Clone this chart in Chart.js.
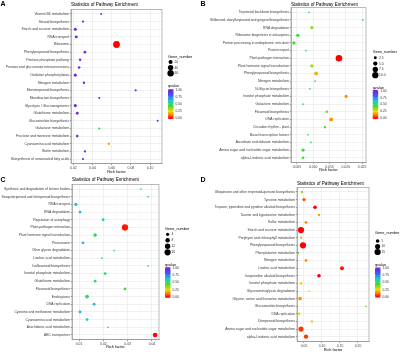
<!DOCTYPE html>
<html>
<head>
<meta charset="utf-8">
<script src="https://cdn.jsdelivr.net/npm/chart.js@4.4.0/dist/chart.umd.min.js"></script>
<style>
  html, body { margin: 0; padding: 0; background: #fff; }
  #wrap { position: relative; width: 400px; height: 352px; overflow: hidden; }
  #wrap canvas { position: absolute; }
  .tag { position: absolute; font: bold 7px "Liberation Sans", Arial, sans-serif; color: #000; line-height: 7px; }
</style>
</head>
<body>
<div id="wrap">
  <canvas id="chartA" width="200" height="176" style="left:0;top:0"></canvas>
  <canvas id="chartB" width="200" height="176" style="left:200px;top:0"></canvas>
  <canvas id="chartC" width="200" height="176" style="left:0;top:176px"></canvas>
  <canvas id="chartD" width="200" height="176" style="left:200px;top:176px"></canvas>
  <div class="tag" style="left:0.5px;top:0px">A</div>
  <div class="tag" style="left:200.5px;top:0px">B</div>
  <div class="tag" style="left:0.5px;top:175.5px">C</div>
  <div class="tag" style="left:200.5px;top:176px">D</div>
</div>
<script>
// ---- data ----
const pathwaysA = ['Vitamin B6 metabolism', 'Steroid biosynthesis', 'Starch and sucrose metabolism', 'RNA transport',
  'Ribosome', 'Phenylpropanoid biosynthesis', 'Pentose phosphate pathway', 'Pentose and glucuronate interconversions',
  'Oxidative phosphorylation', 'Nitrogen metabolism', 'Monoterpenoid biosynthesis', 'Monobactam biosynthesis',
  'Glycolysis / Gluconeogenesis', 'Glutathione metabolism', 'Glucosinolate biosynthesis', 'Galactose metabolism',
  'Fructose and mannose metabolism', 'Cyanoamino acid metabolism', 'Biotin metabolism', 'Biosynthesis of unsaturated fatty acids'];
const richA = [0.049, 0.030, 0.022, 0.023, 0.065, 0.032, 0.027, 0.026, 0.022, 0.031, 0.085, 0.047, 0.022, 0.024, 0.108, 0.047, 0.024, 0.057, 0.032, 0.030];
const genesA = [2, 3, 9, 8, 70, 6, 4, 5, 10, 4, 3, 2, 9, 7, 2, 3, 5, 4, 3, 3];
const qvalA = [0.98, 0.97, 0.95, 0.95, 0.0, 0.96, 0.97, 0.96, 0.95, 0.96, 0.93, 0.98, 0.95, 0.96, 0.98, 0.5, 0.96, 0.18, 0.97, 0.97];
const ticksA = [0.02, 0.04, 0.06, 0.08, 0.10];
const geneKeysA = [20, 40, 60];

const pathwaysB = ['Terpenoid backbone biosynthesis', 'Stilbenoid, diarylheptanoid and gingerol biosynthesis', 'RNA degradation',
  'Ribosome biogenesis in eukaryotes', 'Protein processing in endoplasmic reticulum', 'Protein export',
  'Plant-pathogen interaction', 'Plant hormone signal transduction', 'Phenylpropanoid biosynthesis', 'Nitrogen metabolism',
  'N-Glycan biosynthesis', 'Inositol phosphate metabolism', 'Galactose metabolism', 'Flavonoid biosynthesis', 'DNA replication',
  'Circadian rhythm - plant', 'Basal transcription factors', 'Ascorbate and aldarate metabolism',
  'Amino sugar and nucleotide sugar metabolism', 'alpha-Linolenic acid metabolism'];
const richB = [0.0087, 0.0252, 0.0096, 0.0053, 0.0041, 0.0078, 0.0179, 0.0096, 0.0109, 0.0106, 0.0090, 0.0201, 0.0069, 0.0142, 0.0155, 0.0136, 0.0084, 0.0093, 0.0069, 0.0069];
const genesB = [1, 1, 3, 3, 3, 1, 11, 3, 4, 1, 1, 3, 1, 2, 4, 2, 1, 1, 3, 2];
const qvalB = [0.5, 0.55, 0.35, 0.45, 0.45, 0.5, 0.0, 0.35, 0.2, 0.5, 0.5, 0.15, 0.5, 0.4, 0.15, 0.4, 0.5, 0.5, 0.45, 0.45];
const ticksB = [0.005, 0.010, 0.015, 0.020, 0.025];
const geneKeysB = [2.5, 5, 7.5, 10];

const pathwaysC = ['Synthesis and degradation of ketone bodies', 'Sesquiterpenoid and triterpenoid biosynthesis', 'RNA transport',
  'RNA degradation', 'Regulation of autophagy', 'Plant-pathogen interaction', 'Plant hormone signal transduction', 'Peroxisome',
  'Other glycan degradation', 'Linoleic acid metabolism', 'Isoflavonoid biosynthesis', 'Inositol phosphate metabolism',
  'Glutathione metabolism', 'Flavonoid biosynthesis', 'Endocytosis', 'DNA replication', 'Cysteine and methionine metabolism',
  'Cyanoamino acid metabolism', 'Arachidonic acid metabolism', 'ABC transporters'];
const richC = [0.0355, 0.0384, 0.0087, 0.0104, 0.0199, 0.0289, 0.0166, 0.0116, 0.0244, 0.0194, 0.0384, 0.0207, 0.0166, 0.0289, 0.0133, 0.0162, 0.0104, 0.0133, 0.0219, 0.0413];
const genesC = [1, 1, 4, 3, 3, 16, 5, 3, 1, 1, 1, 3, 3, 3, 6, 3, 3, 3, 1, 9];
const qvalC = [0.62, 0.58, 0.65, 0.65, 0.58, 0.02, 0.48, 0.65, 0.6, 0.6, 0.6, 0.5, 0.52, 0.45, 0.5, 0.65, 0.66, 0.63, 0.6, 0.0];
const ticksC = [0.01, 0.02, 0.03, 0.04];
const geneKeysC = [4, 8, 12, 16];

const pathwaysD = ['Ubiquinone and other terpenoid-quinone biosynthesis', 'Tyrosine metabolism',
  'Tropane, piperidine and pyridine alkaloid biosynthesis', 'Taurine and hypotaurine metabolism', 'Sulfur metabolism',
  'Starch and sucrose metabolism', 'Porphyrin and chlorophyll metabolism', 'Phenylpropanoid biosynthesis',
  'Phenylalanine metabolism', 'Nitrogen metabolism', 'Linoleic acid metabolism', 'Isoquinoline alkaloid biosynthesis',
  'Inositol phosphate metabolism', 'Glycosaminoglycan degradation', 'Glycine, serine and threonine metabolism',
  'Glucosinolate biosynthesis', 'DNA replication', 'Diterpenoid biosynthesis', 'Amino sugar and nucleotide sugar metabolism',
  'alpha-Linolenic acid metabolism'];
const richD = [0.0445, 0.050, 0.0806, 0.0917, 0.0556, 0.0417, 0.0417, 0.0473, 0.0334, 0.0556, 0.1556, 0.0917, 0.0417, 0.064, 0.039, 0.2223, 0.036, 0.072, 0.0417, 0.0556];
const genesD = [2, 4, 5, 2, 3, 15, 2, 15, 2, 3, 6, 5, 3, 1, 5, 1, 3, 2, 10, 7];
const qvalD = [0.35, 0.08, 0.0, 0.15, 0.15, 0.0, 0.35, 0.0, 0.4, 0.15, 0.02, 0.0, 0.25, 0.3, 0.15, 0.4, 0.25, 0.28, 0.05, 0.05];
const ticksD = [0.05, 0.10, 0.15, 0.20];
const geneKeysD = [5, 10, 15];

const qTicks = [1.00, 0.75, 0.50, 0.25, 0.00];

// ---- styling helpers ----
const FONT = '"Liberation Sans", Arial, sans-serif';
const TITLE = 'Statistics of Pathway Enrichment';
const H = 176;

// qvalue colour scale, 0 = red ... 1 = purple
const qStops = [
  [0.00, [255, 0, 0]],
  [0.12, [255, 128, 0]],
  [0.25, [240, 215, 0]],
  [0.45, [60, 220, 50]],
  [0.62, [30, 205, 205]],
  [0.80, [60, 95, 255]],
  [1.00, [120, 30, 215]]
];
function qColor(q) {
  for (let i = 1; i < qStops.length; i++) {
    if (q <= qStops[i][0]) {
      const [p0, c0] = qStops[i - 1], [p1, c1] = qStops[i];
      const t = (q - p0) / (p1 - p0);
      const c = c0.map((v, k) => Math.round(v + (c1[k] - v) * t));
      return `rgb(${c[0]},${c[1]},${c[2]})`;
    }
  }
  const c = qStops[qStops.length - 1][1];
  return `rgb(${c[0]},${c[1]},${c[2]})`;
}

function sizer(maxGene, maxR) {
  return n => 0.85 + (maxR - 0.85) * (Math.sqrt(n) - 1) / (Math.sqrt(maxGene) - 1);
}

// title, border and the two legends
const decor = {
  id: 'decor',
  afterDraw(chart, args, o) {
    const ctx = chart.ctx, a = chart.chartArea, L = o.leg;
    ctx.save();
    ctx.strokeStyle = '#8c8c8c';
    ctx.lineWidth = 0.6;
    ctx.strokeRect(a.left, a.top, a.right - a.left, a.bottom - a.top);

    ctx.fillStyle = '#000';
    ctx.textBaseline = 'middle';
    ctx.textAlign = 'left';
    ctx.font = '4.6px ' + FONT;
    ctx.fillText(TITLE, a.left, o.titleY);

    // Gene_number
    ctx.font = '3.8px ' + FONT;
    ctx.fillText('Gene_number', L.x, L.gTitle);
    ctx.font = '3.3px ' + FONT;
    o.keys.forEach((n, i) => {
      const y = L.g0 + i * L.gStep;
      ctx.fillStyle = '#000';
      ctx.beginPath();
      ctx.arc(L.x + 2.6, y, o.radius(n), 0, Math.PI * 2);
      ctx.fill();
      ctx.fillStyle = '#333';
      ctx.fillText(n.toFixed(o.keyDigits), L.x + 6.4, y);
    });

    // qvalue colour bar
    ctx.fillStyle = '#000';
    ctx.font = '3.8px ' + FONT;
    ctx.fillText('qvalue', L.x, L.qTitle);
    const top = L.q0 - 0.8, bot = L.q1 + 0.8, w = 5.5;
    const g = ctx.createLinearGradient(0, L.q0, 0, L.q1);
    qStops.forEach(([p]) => g.addColorStop(1 - p, qColor(p)));
    ctx.fillStyle = g;
    ctx.fillRect(L.x, top, w, bot - top);
    ctx.font = '3.3px ' + FONT;
    qTicks.forEach(q => {
      const y = L.q1 - (L.q1 - L.q0) * q;
      ctx.strokeStyle = '#fff';
      ctx.lineWidth = 0.4;
      ctx.beginPath();
      ctx.moveTo(L.x, y); ctx.lineTo(L.x + 1.1, y);
      ctx.moveTo(L.x + w - 1.1, y); ctx.lineTo(L.x + w, y);
      ctx.stroke();
      ctx.fillStyle = '#333';
      ctx.fillText(q.toFixed(2), L.x + w + 2, y);
    });
    ctx.restore();
  }
};

function xTicks(p) {
  const major = p.ticks;
  const step = major[1] - major[0];
  const out = [];
  for (let v = major[0] - step / 2; v <= p.xmax + 1e-9; v += step / 2) {
    if (v < p.xmin - 1e-9) continue;
    const isMajor = major.some(m => Math.abs(m - v) < step / 10);
    out.push({ value: v, minor: !isMajor });
  }
  return out;
}

function buildChart(p) {
  const radius = sizer(p.maxGene, p.maxR);
  const points = p.labels.map((name, i) => ({ x: p.rich[i], y: i, r: radius(p.genes[i]) }));
  const colors = p.q.map(qColor);

  new Chart(document.getElementById(p.id), {
    type: 'bubble',
    data: {
      datasets: [{
        data: points,
        backgroundColor: colors,
        borderWidth: 0,
        hoverRadius: 0
      }]
    },
    options: {
      responsive: false,
      animation: false,
      events: [],
      layout: { padding: { left: 0, top: p.box.t, right: 200 - p.box.r, bottom: 0 } },
      scales: {
        x: {
          type: 'linear',
          min: p.xmin,
          max: p.xmax,
          afterBuildTicks: s => { s.ticks = xTicks(p); },
          afterFit: s => { s.height = H - p.box.b; },
          ticks: {
            autoSkip: false,
            maxRotation: 0,
            padding: 0.8,
            color: '#3a3a3a',
            font: { family: FONT, size: 3.4 },
            callback: (v, i, t) => t[i].minor ? '' : v.toFixed(p.digits)
          },
          grid: {
            color: c => c.tick && c.tick.minor ? '#f3f3f3' : '#e8e8e8',
            lineWidth: c => c.tick && c.tick.minor ? 0.4 : 0.6,
            tickLength: 1.5,
            tickColor: c => c.tick && c.tick.minor ? 'rgba(0,0,0,0)' : '#555'
          },
          border: { display: true, color: '#8c8c8c', width: 0.6 },
          title: {
            display: true,
            text: 'Rich factor',
            color: '#000',
            font: { family: FONT, size: 3.9 },
            padding: { top: 0, bottom: p.rfPad }
          }
        },
        y: {
          type: 'linear',
          min: -0.6,
          max: p.labels.length - 0.4,
          reverse: true,
          afterBuildTicks: s => { s.ticks = p.labels.map((_, i) => ({ value: i })); },
          afterFit: s => { s.width = p.box.l; },
          ticks: {
            autoSkip: false,
            padding: 0.8,
            color: '#3a3a3a',
            font: { family: FONT, size: 3.4 },
            callback: (v, i) => p.labels[i]
          },
          grid: { color: '#e8e8e8', lineWidth: 0.6, tickLength: 1.2, tickColor: '#555' },
          border: { display: true, color: '#8c8c8c', width: 0.6 }
        }
      },
      plugins: {
        legend: { display: false },
        tooltip: { enabled: false },
        decor: {
          titleY: p.titleY,
          leg: p.leg,
          keys: p.keys,
          keyDigits: p.keyDigits,
          radius: radius
        }
      }
    },
    plugins: [decor]
  });
}

const panels = [
  {
    id: 'chartA', labels: pathwaysA, rich: richA, genes: genesA, q: qvalA, ticks: ticksA, keys: geneKeysA,
    digits: 2, keyDigits: 0, xmin: 0.0175, xmax: 0.1125, maxGene: 70, maxR: 3.4,
    box: { l: 71, r: 162, t: 9.4, b: 163.6 }, titleY: 4.7, rfPad: 1.6,
    leg: { x: 168, gTitle: 57.3, g0: 62, gStep: 5.6, qTitle: 86.2, q0: 90, q1: 118.3 }
  },
  {
    id: 'chartB', labels: pathwaysB, rich: richB, genes: genesB, q: qvalB, ticks: ticksB, keys: geneKeysB,
    digits: 3, keyDigits: 1, xmin: 0.0032, xmax: 0.0262, maxGene: 11, maxR: 3.3,
    box: { l: 91, r: 166, t: 7.7, b: 162.3 }, titleY: 4.3, rfPad: 3.4,
    leg: { x: 172.7, gTitle: 52.3, g0: 57.8, gStep: 5.8, qTitle: 87.5, q0: 90.7, q1: 118.3 }
  },
  {
    id: 'chartC', labels: pathwaysC, rich: richC, genes: genesC, q: qvalC, ticks: ticksC, keys: geneKeysC,
    digits: 2, keyDigits: 0, xmin: 0.0071, xmax: 0.0429, maxGene: 16, maxR: 3.1,
    box: { l: 72, r: 159, t: 8.4, b: 163.6 }, titleY: 4.2, rfPad: 2.4,
    leg: { x: 165, gTitle: 53, g0: 58.3, gStep: 6, qTitle: 88.8, q0: 92, q1: 121 }
  },
  {
    id: 'chartD', labels: pathwaysD, rich: richD, genes: genesD, q: qvalD, ticks: ticksD, keys: geneKeysD,
    digits: 2, keyDigits: 0, xmin: 0.0306, xmax: 0.2306, maxGene: 15, maxR: 3.1,
    box: { l: 97, r: 169, t: 11.4, b: 165.3 }, titleY: 7.3, rfPad: 0.2,
    leg: { x: 175, gTitle: 57.3, g0: 65, gStep: 5.5, qTitle: 89, q0: 92.3, q1: 120.7 }
  }
];

panels.forEach(buildChart);
</script>
</body>
</html>
